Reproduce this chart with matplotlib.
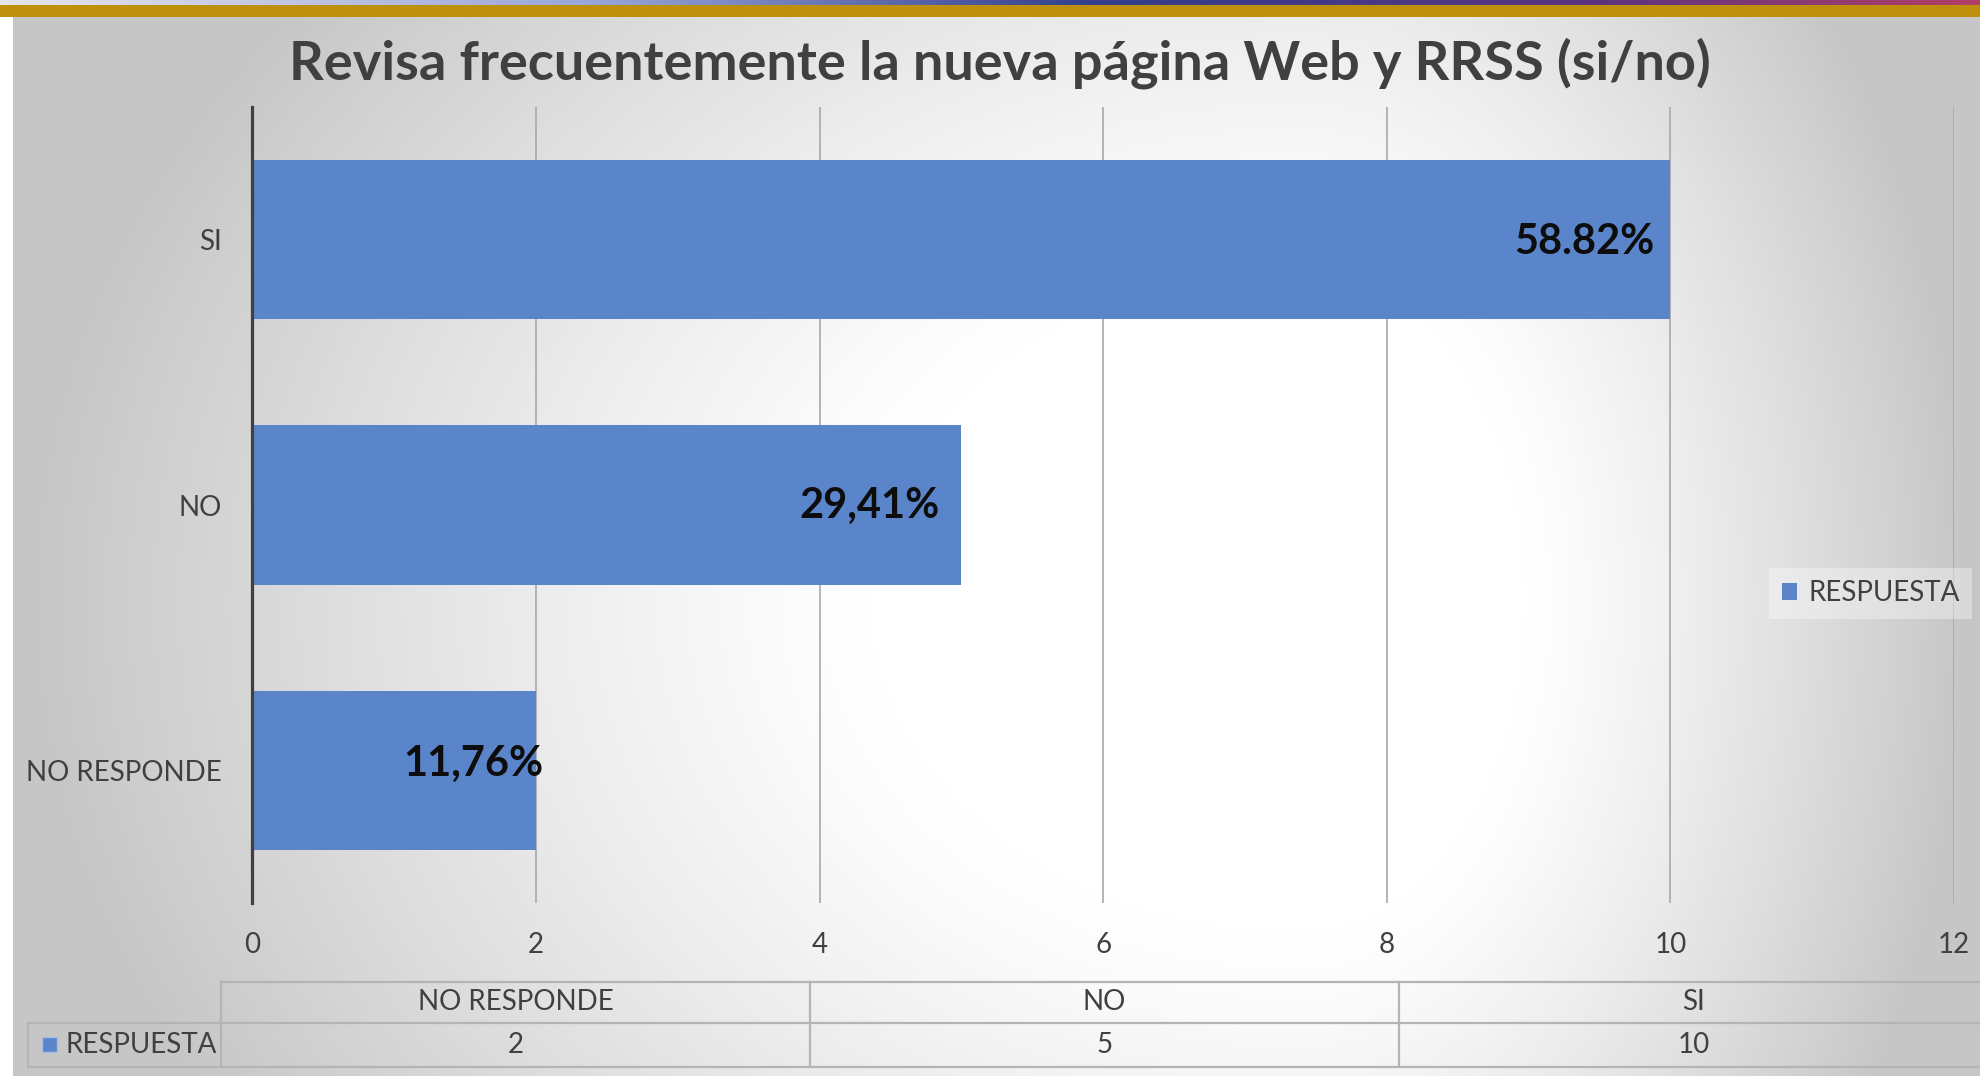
import matplotlib
matplotlib.use("Agg")
import matplotlib.pyplot as plt
import numpy as np
from matplotlib.patches import Rectangle

# chart data
categories = ["NO RESPONDE", "NO", "SI"]
values = [2, 5, 10]
pct_labels = ["11,76%", "29,41%", "58.82%"]
series_name = "RESPUESTA"
title = "Revisa frecuentemente la nueva página Web y RRSS (si/no)"
x_ticks = [0, 2, 4, 6, 8, 10, 12]

# label nudges in pixels (dx, dy) relative to the bar end
label_nudge = [(7, -6), (-22, 1), (-16, 2)]

BAR = "#5b85cb"
TXT = "#404040"
W, H = 1980, 1076

plt.rcParams["font.family"] = ["Lato", "DejaVu Sans"]

fig = plt.figure(figsize=(W / 100, H / 100), dpi=100)


def fig_rect(x0, y0, x1, y1):
    return [x0 / W, 1 - y1 / H, (x1 - x0) / W, (y1 - y0) / H]


# background: light gray with a soft white glow right of centre
bg = fig.add_axes([0, 0, 1, 1], zorder=0)
bg.set_xlim(0, W)
bg.set_ylim(H, 0)
bg.axis("off")
xx, yy = np.meshgrid(np.arange(W), np.arange(H))
cx, cy = 1300, 600
dx = np.where(xx < cx, (cx - xx) / 1300, (xx - cx) / 680)
dy = np.where(yy < cy, (cy - yy) / 1000, (yy - cy) / 1000)
d = np.sqrt(dx ** 2 + dy ** 2)
shade = 255 - 57 * np.clip((d - 0.33) / 0.65, 0, 1) ** 1.2
img = np.repeat(shade[:, :, None], 3, axis=2) / 255.0
img[:, :13] = 1.0
bg.imshow(img, extent=(0, W, H, 0), aspect="auto", interpolation="bilinear")

# top decoration strip
strip = np.linspace(0, 1, W)
top = np.zeros((1, W, 3))
top[0, :, 0] = np.interp(strip, [0, 0.3, 0.55, 0.8, 1], [0.9, 0.6, 0.2, 0.35, 0.7])
top[0, :, 1] = np.interp(strip, [0, 0.3, 0.55, 0.8, 1], [0.9, 0.65, 0.25, 0.2, 0.25])
top[0, :, 2] = np.interp(strip, [0, 0.3, 0.55, 0.8, 1], [0.92, 0.85, 0.55, 0.5, 0.4])
bg.imshow(top, extent=(0, W, 5, 0), aspect="auto")
bg.add_patch(Rectangle((0, 5), W, 12, color="#bf900c", lw=0))

# title
fig.text(1000 / W, 1 - 63 / H, title, ha="center", va="center",
         fontsize=39, fontweight="bold", color=TXT, zorder=5)

# main bar chart
ax = fig.add_axes(fig_rect(252.5, 107, 1954, 903), zorder=1)
ax.patch.set_alpha(0)
y = np.arange(len(categories))
bars = ax.barh(y, values, height=0.6, color=BAR, label=series_name, zorder=2)
ax.set_xlim(0, 12)
ax.set_ylim(-0.5, len(categories) - 0.5)
ax.set_xticks(x_ticks)
ax.set_yticks(y, categories)
ax.grid(axis="x", color="#a8a8a8", lw=1.2, zorder=0)
for s in ["top", "right", "bottom"]:
    ax.spines[s].set_visible(False)
ax.spines["left"].set_color("#404040")
ax.spines["left"].set_linewidth(2.3)
ax.spines["left"].set_zorder(3)
ax.tick_params(axis="x", length=0, pad=21, labelsize=20, labelcolor=TXT)
ax.tick_params(axis="y", length=0, pad=22, labelsize=20, labelcolor=TXT)

for b, lab, (ndx, ndy) in zip(bars, pct_labels, label_nudge):
    ax.annotate(lab, xy=(b.get_width(), b.get_y() + b.get_height() / 2),
                xytext=(ndx * 0.72, -ndy * 0.72), textcoords="offset points",
                ha="right", va="center", fontsize=30, fontweight="bold",
                color="#0d0d0d", zorder=4)

leg = ax.legend(loc="upper right", bbox_to_anchor=(1986 / W, 1 - 554 / H),
                bbox_transform=fig.transFigure, fontsize=20, frameon=True,
                handlelength=0.55, handleheight=0.55, handletextpad=0.4,
                borderpad=0.45, fancybox=False)
leg.get_frame().set_facecolor("white")
leg.get_frame().set_alpha(0.35)
leg.get_frame().set_edgecolor("none")
for t in leg.get_texts():
    t.set_color(TXT)

# data table under the axis
ov = fig.add_axes([0, 0, 1, 1], zorder=2)
ov.set_xlim(0, W)
ov.set_ylim(H, 0)
ov.axis("off")
lc = "#b4b4b4"
col0 = 221
col_w = 589
row_top, row_mid, row_bot = 982, 1023, 1067
edges = [col0 + col_w * i for i in range(len(categories) + 1)]
ov.plot([col0, W], [row_top, row_top], color=lc, lw=1.6)
ov.plot([28, W], [row_mid, row_mid], color=lc, lw=1.6)
ov.plot([28, W], [row_bot, row_bot], color=lc, lw=1.6)
ov.plot([28, 28], [row_mid, row_bot], color=lc, lw=1.6)
for e in edges[:-1]:
    ov.plot([e, e], [row_top, row_bot], color=lc, lw=1.6)
for i, (cat, v) in enumerate(zip(categories, values)):
    xc = (edges[i] + edges[i + 1]) / 2
    ov.text(xc, (row_top + row_mid) / 2, cat, ha="center", va="center",
            fontsize=20, color=TXT)
    ov.text(xc, (row_mid + row_bot) / 2, str(v), ha="center", va="center",
            fontsize=20, color=TXT)
ov.add_patch(Rectangle((42, 1037), 15, 15, facecolor=BAR, edgecolor="#a9bde4", lw=1))
ov.text(66, (row_mid + row_bot) / 2, series_name, ha="left", va="center",
        fontsize=20, color=TXT)

fig.savefig("out.png", dpi=100)
